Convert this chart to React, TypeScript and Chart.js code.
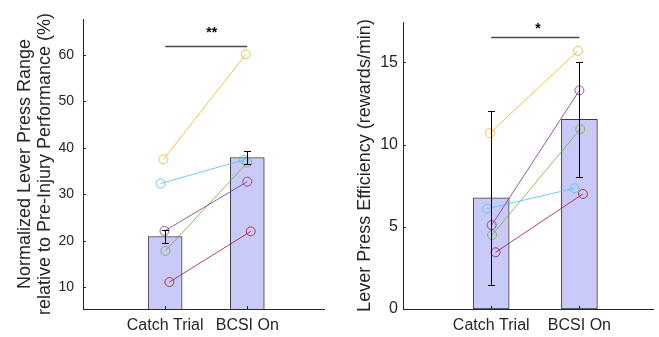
import React, { useEffect, useRef } from 'react';
import { Chart, registerables } from 'chart.js';

Chart.register(...registerables);

// ---------- data ----------
const categories = ['Catch Trial', 'BCSI On'];
const animalColors = [
  'rgba(237,177,32,0.8)',
  'rgba(77,190,238,0.8)',
  'rgba(126,47,142,0.8)',
  'rgba(119,172,48,0.8)',
  'rgba(162,20,47,0.8)',
];

// Left panel: normalized lever press range (%)
const rangeCatch = [37.5, 32.3, 22.1, 17.8, 11.1];
const rangeBcsi = [60.1, 37.4, 32.7, 36.8, 22.0];
const rangeJitterCatch = [-0.02, -0.055, -0.008, 0.004, 0.052];
const rangeJitterBcsi = [-0.018, -0.039, 0.0, 0.0, 0.042];
const rangeMean = [20.9, 37.9];
const rangeErr = [1.5, 1.3];
const rangeTicks = [10, 20, 30, 40, 50, 60];
const rangeSigLabel = '**';
const rangeSigY = 61.9;
const rangeTextY = 64.7;

// Right panel: lever press efficiency (rewards/min)
const effCatch = [10.7, 6.1, 5.1, 4.5, 3.45];
const effBcsi = [15.7, 7.35, 13.3, 10.95, 7.0];
const effJitterCatch = [-0.015, -0.045, 0.005, 0.01, 0.05];
const effJitterBcsi = [-0.017, -0.054, 0.0, 0.01, 0.04];
const effMean = [6.76, 11.54];
const effErr = [5.27, 3.5];
const effTicks = [0, 5, 10, 15];
const effSigLabel = '*';
const effSigY = 16.55;
const effTextY = 17.0;

const FONT = "'Liberation Sans', Arial, Helvetica, sans-serif";
const TEXT = '#262626';

const overlayPlugin = {
  id: 'overlay',
  afterDatasetsDraw(chart: any, _args: any, opts: any) {
    const { ctx, chartArea } = chart;
    const x = chart.scales.x;
    const y = chart.scales.y;
    ctx.save();
    // error bars
    ctx.strokeStyle = '#000';
    ctx.lineWidth = 1;
    opts.means.forEach((m: number, i: number) => {
      const px = Math.round(x.getPixelForValue(i + 1)) + 0.5;
      const top = Math.round(y.getPixelForValue(m + opts.errs[i])) + 0.5;
      const bot = Math.round(y.getPixelForValue(m - opts.errs[i])) + 0.5;
      const cap = opts.cap;
      ctx.beginPath();
      ctx.moveTo(px, top);
      ctx.lineTo(px, bot);
      ctx.moveTo(px - cap, top);
      ctx.lineTo(px + cap, top);
      ctx.moveTo(px - cap, bot);
      ctx.lineTo(px + cap, bot);
      ctx.stroke();
    });
    // significance bar
    const sy = Math.round(y.getPixelForValue(opts.sigY)) + 0.5;
    ctx.strokeStyle = '#4a4a4a';
    ctx.lineWidth = 1.5;
    ctx.beginPath();
    ctx.moveTo(x.getPixelForValue(1), sy);
    ctx.lineTo(x.getPixelForValue(2), sy);
    ctx.stroke();
    ctx.fillStyle = '#000';
    ctx.font = `bold 14px ${FONT}`;
    ctx.textAlign = 'left';
    ctx.textBaseline = 'middle';
    ctx.fillText(opts.sigLabel, x.getPixelForValue(1.5), y.getPixelForValue(opts.textY));
    // inward ticks
    ctx.strokeStyle = TEXT;
    ctx.lineWidth = 1;
    ctx.beginPath();
    y.ticks.forEach((t: any) => {
      const py = Math.round(y.getPixelForValue(t.value)) + 0.5;
      ctx.moveTo(chartArea.left, py);
      ctx.lineTo(chartArea.left + 3, py);
    });
    x.ticks.forEach((t: any) => {
      const px = Math.round(x.getPixelForValue(t.value)) + 0.5;
      ctx.moveTo(px, chartArea.bottom);
      ctx.lineTo(px, chartArea.bottom - 3);
    });
    ctx.stroke();
    ctx.restore();
  },
};

type PanelProps = {
  left: number;
  width: number;
  yWidth: number;
  padTop: number;
  padRight: number;
  yMin: number;
  yMax: number;
  xMax: number;
  ticks: number[];
  catchVals: number[];
  bcsiVals: number[];
  jitCatch: number[];
  jitBcsi: number[];
  means: number[];
  errs: number[];
  barThickness: number;
  title: string | string[];
  titlePad: number;
  tickSize: number;
  tickPad: number;
  sigLabel: string;
  sigY: number;
  textY: number;
  cap: number;
};

function Panel(p: PanelProps) {
  const ref = useRef<HTMLCanvasElement>(null);
  useEffect(() => {
    if (!ref.current) return;
    const lineSets = p.catchVals.map((c, i) => ({
      type: 'line' as const,
      data: [
        { x: 1 + p.jitCatch[i], y: c },
        { x: 2 + p.jitBcsi[i], y: p.bcsiVals[i] },
      ],
      borderColor: animalColors[i],
      borderWidth: 1,
      pointRadius: 4.5,
      pointBorderWidth: 1,
      pointBorderColor: animalColors[i],
      pointBackgroundColor: 'rgba(0,0,0,0)',
      order: 0,
    }));
    const chart = new Chart(ref.current, {
      type: 'bar',
      data: {
        datasets: [
          ...lineSets,
          {
            type: 'bar' as const,
            data: p.means.map((m, i) => ({ x: i + 1, y: m })),
            backgroundColor: '#cacaf9',
            borderColor: '#3a3a3a',
            borderWidth: 1,
            borderSkipped: false,
            barThickness: p.barThickness,
            order: 10,
          } as any,
        ],
      },
      options: {
        responsive: false,
        animation: false,
        layout: { padding: { top: p.padTop, right: p.padRight, left: 0, bottom: 0 } },
        plugins: {
          legend: { display: false },
          tooltip: { enabled: false },
          overlay: {
            means: p.means,
            errs: p.errs,
            cap: p.cap,
            sigLabel: p.sigLabel,
            sigY: p.sigY,
            textY: p.textY,
          },
        } as any,
        scales: {
          x: {
            type: 'linear',
            min: 0,
            max: p.xMax,
            offset: false,
            afterBuildTicks: (s: any) => {
              s.ticks = categories.map((_, i) => ({ value: i + 1 }));
            },
            afterFit: (s: any) => {
              s.height = 28;
            },
            ticks: {
              callback: (v: any) => categories[Math.round(Number(v)) - 1] ?? '',
              font: { family: FONT, size: 16 },
              color: TEXT,
              padding: 7,
              maxRotation: 0,
              autoSkip: false,
            },
            grid: { display: false, drawTicks: false, offset: false },
            border: { display: true, color: TEXT, width: 1 },
          },
          y: {
            type: 'linear',
            min: p.yMin,
            max: p.yMax,
            afterBuildTicks: (s: any) => {
              s.ticks = p.ticks.map((v) => ({ value: v }));
            },
            afterFit: (s: any) => {
              s.width = p.yWidth;
            },
            ticks: {
              font: { family: FONT, size: p.tickSize },
              color: TEXT,
              padding: p.tickPad,
              autoSkip: false,
            },
            grid: { display: false, drawTicks: false },
            border: { display: true, color: TEXT, width: 1 },
            title: {
              display: true,
              text: p.title,
              color: TEXT,
              font: { family: FONT, size: 18, lineHeight: 1.12 },
              padding: { top: p.titlePad, bottom: 0 },
            },
          },
        },
      } as any,
      plugins: [overlayPlugin],
    });
    return () => chart.destroy();
  }, []);
  return (
    <canvas
      ref={ref}
      width={p.width}
      height={337}
      style={{ position: 'absolute', left: p.left, top: 0, width: p.width, height: 337 }}
    />
  );
}

export default function App() {
  return (
    <div style={{ position: 'absolute', left: 0, top: 0, width: 659, height: 337, background: '#fff', overflow: 'hidden' }}>
      <Panel
        left={0}
        width={330}
        yWidth={83}
        padTop={19}
        padRight={5}
        yMin={5.3}
        yMax={67.7}
        xMax={2.94}
        ticks={rangeTicks}
        catchVals={rangeCatch}
        bcsiVals={rangeBcsi}
        jitCatch={rangeJitterCatch}
        jitBcsi={rangeJitterBcsi}
        means={rangeMean}
        errs={rangeErr}
        barThickness={34}
        title={['Normalized Lever Press Range', 'relative to Pre-Injury Performance (%)']}
        titlePad={15}
        tickSize={14}
        tickPad={9}
        sigLabel={rangeSigLabel}
        sigY={rangeSigY}
        textY={rangeTextY}
        cap={3.5}
      />
      <Panel
        left={330}
        width={329}
        yWidth={73}
        padTop={22}
        padRight={4}
        yMin={0}
        yMax={17.46}
        xMax={2.84}
        ticks={effTicks}
        catchVals={effCatch}
        bcsiVals={effBcsi}
        jitCatch={effJitterCatch}
        jitBcsi={effJitterBcsi}
        means={effMean}
        errs={effErr}
        barThickness={36}
        title={'Lever Press Efficiency (rewards/min)'}
        titlePad={25}
        tickSize={16}
        tickPad={5}
        sigLabel={effSigLabel}
        sigY={effSigY}
        textY={effTextY}
        cap={3.5}
      />
    </div>
  );
}
